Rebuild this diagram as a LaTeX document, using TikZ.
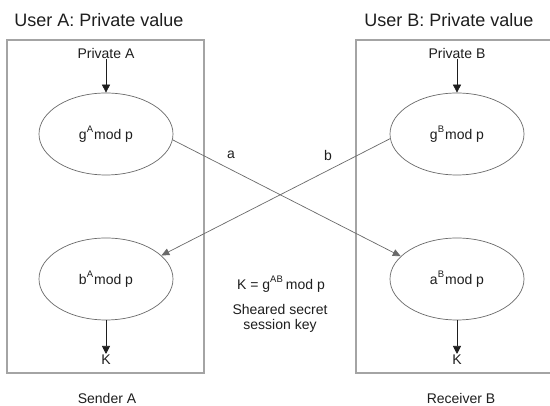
\documentclass[tikz,border=0pt]{standalone}
\usepackage{fontspec}
\setmainfont{Liberation Sans}
\usetikzlibrary{arrows.meta,shapes.geometric}
\definecolor{ink}{HTML}{1E1E1E}
\definecolor{frame}{HTML}{A4A4A4}
\definecolor{wire}{HTML}{6A6A6A}
\newcommand{\up}[1]{\raisebox{0.95ex}{\fontsize{9.5}{9.5}\selectfont #1}}
\begin{document}
\begin{tikzpicture}[x=1pt,y=-1pt,
  title/.style={font=\fontsize{18}{20}\selectfont, text=ink},
  label/.style={font=\fontsize{14}{16}\selectfont, text=ink, inner sep=1pt},
  usrbox/.style={draw=frame, line width=1.3pt},
  oval/.style={ellipse, draw=wire, line width=0.7pt, minimum width=134pt,
               minimum height=82pt, inner sep=0pt,
               font=\fontsize{14}{16}\selectfont, text=ink},
  feed/.style={draw=ink, line width=0.7pt, -{Triangle[width=8pt,length=8pt]}},
  link/.style={draw=wire, line width=0.7pt, -{Triangle[width=7pt,length=8pt]}}]
  \useasboundingbox (0,0) rectangle (550,406);
  \fill[white] (0,0) rectangle (550,406);

  % titles
  \node[title] (tA) at (99,20) {User A: Private value};
  \node[title] (tB) at (449,20) {User B: Private value};

  % user frames (B's frame runs off the right edge)
  \draw[usrbox] (7,40) rectangle (204,373);
  \draw[usrbox] (560,40) -- (356,40) -- (356,373) -- (560,373);

  % private inputs
  \node[label] (pA) at (106,53) {Private A};
  \node[label] (pB) at (457,53) {Private B};

  % public values and shared keys
  \node[oval] (gA) at (106,134) {g\up{A}\kern1pt mod p};
  \node[oval] (gB) at (457,134) {g\up{B}\kern1pt mod p};
  \node[oval] (kA) at (106,279) {b\up{A}\kern1pt mod p};
  \node[oval] (kB) at (457,279) {a\up{B}\kern1pt mod p};

  \draw[feed] (pA) -- (gA);
  \draw[feed] (pB) -- (gB);

  \node[label] (KA) at (106,360) {K};
  \node[label] (KB) at (457,360) {K};
  \draw[feed] (kA) -- (KA);
  \draw[feed] (kB) -- (KB);

  % exchange of public values
  \draw[link] (gA.-5) -- (kB.158);
  \draw[link] (gB.184) -- (kA.23);
  \node[label] (la) at (231,155) {a};
  \node[label] (lb) at (328,155) {b};

  % shared key note
  \node[label] (eq) at (281,284) {K = g\up{AB}\kern3pt mod p};
  \node[label, align=center] (note) at (280,318)
       {Sheared secret\\[-1pt]session key};

  % footers
  \node[label] (sA) at (107,398) {Sender A};
  \node[label] (rB) at (461,398) {Receiver B};
\end{tikzpicture}
\end{document}
